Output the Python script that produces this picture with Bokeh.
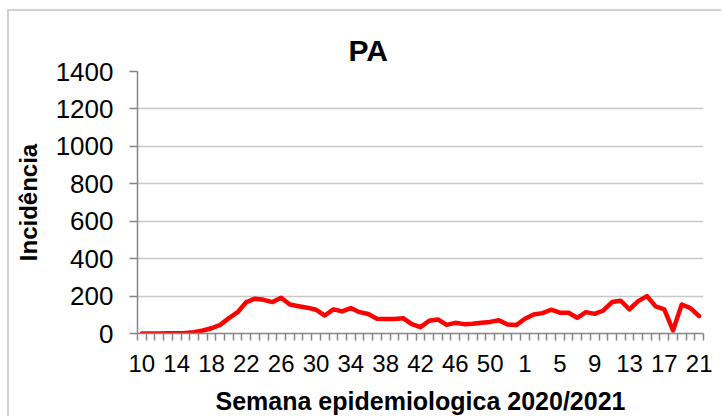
from bokeh.plotting import figure
from bokeh.models import Range1d, FixedTicker
from bokeh.embed import file_html
from bokeh.resources import INLINE

# Epidemiological weeks: 10..53 of 2020, then 1..21 of 2021
weeks = [10, 11, 12, 13, 14, 15, 16, 17, 18, 19, 20, 21, 22, 23, 24, 25, 26, 27, 28, 29,
         30, 31, 32, 33, 34, 35, 36, 37, 38, 39, 40, 41, 42, 43, 44, 45, 46, 47, 48, 49,
         50, 51, 52, 53,
         1, 2, 3, 4, 5, 6, 7, 8, 9, 10, 11, 12, 13, 14, 15, 16, 17, 18, 19, 20, 21]
incidencia = [0, 0, 0, 1, 2, 3, 7, 16, 28, 46, 82, 114,
              168, 186, 180, 168, 191, 155, 146, 138, 127, 96,
              129, 118, 136, 114, 104, 79, 77, 77, 82, 50,
              34, 68, 75, 46, 57, 50, 52, 57, 62, 71, 48, 45,
              79, 102, 109, 127, 111, 111, 84, 114, 105, 123,
              168, 175, 129, 173, 200, 145, 129, 16, 155, 136, 93]
y_ticks = [0, 200, 400, 600, 800, 1000, 1200, 1400]
label_every = 4

n = len(weeks)
xs = [i + 0.5 for i in range(n)]

p = figure(width=714, height=407, output_backend="svg", toolbar_location=None,
           x_range=Range1d(0, n), y_range=Range1d(0, 1400),
           min_border_left=128, min_border_right=20, min_border_top=60, min_border_bottom=85)
p.styles = {"border-top": "2px solid #d0d0d0", "border-left": "2px solid #d0d0d0",
            "margin-top": "9px", "margin-left": "7px"}

p.line(xs, incidencia, line_color="#ff0000", line_width=4.5, line_join="round", line_cap="round")

p.outline_line_color = None
p.background_fill_color = "white"
p.border_fill_color = "white"

# Title
p.title.text = "PA"
p.title.text_font = "Liberation Sans"
p.title.text_font_size = "30px"
p.title.text_font_style = "bold"
p.title.text_color = "black"
p.title.align = "left"
p.title.offset = 211
p.title.standoff = 9

# Y axis
p.yaxis.ticker = FixedTicker(ticks=y_ticks)
p.yaxis.axis_label = "Incidência"
p.yaxis.axis_label_text_font = "Liberation Sans"
p.yaxis.axis_label_text_font_size = "24px"
p.yaxis.axis_label_text_font_style = "bold"
p.yaxis.axis_label_text_color = "black"
p.yaxis.axis_label_standoff = 11
p.yaxis.major_label_text_font = "Liberation Sans"
p.yaxis.major_label_text_font_size = "26px"
p.yaxis.major_label_text_color = "black"
p.yaxis.major_label_standoff = 16
p.yaxis.axis_line_color = "#868686"
p.yaxis.axis_line_width = 1.5
p.yaxis.major_tick_line_color = "#868686"
p.yaxis.major_tick_line_width = 1.5
p.yaxis.major_tick_out = 8
p.yaxis.major_tick_in = 0
p.yaxis.minor_tick_line_color = None

# X axis: labels at every 4th category centre, tick marks at category boundaries
label_pos = [xs[i] for i in range(0, n, label_every)]
p.xaxis.ticker = FixedTicker(ticks=label_pos, minor_ticks=list(range(0, n + 1)))
p.xaxis.major_label_overrides = {xs[i]: str(weeks[i]) for i in range(0, n, label_every)}
p.xaxis.axis_label = "Semana epidemiologica 2020/2021"
p.xaxis.axis_label_text_font = "Liberation Sans"
p.xaxis.axis_label_text_font_size = "25px"
p.xaxis.axis_label_text_font_style = "bold"
p.xaxis.axis_label_text_color = "black"
p.xaxis.axis_label_standoff = 12
p.xaxis.major_label_text_font = "Liberation Sans"
p.xaxis.major_label_text_font_size = "24px"
p.xaxis.major_label_text_color = "black"
p.xaxis.major_label_standoff = 14
p.xaxis.axis_line_color = "#868686"
p.xaxis.axis_line_width = 1.5
p.xaxis.major_tick_line_color = None
p.xaxis.major_tick_out = 0
p.xaxis.major_tick_in = 0
p.xaxis.minor_tick_line_color = "#868686"
p.xaxis.minor_tick_line_width = 1.5
p.xaxis.minor_tick_out = 7
p.xaxis.minor_tick_in = 0

# Grid
p.xgrid.grid_line_color = None
p.ygrid.grid_line_color = "#c8c8c8"
p.ygrid.grid_line_width = 1.5

open("out.html", "w").write(file_html(p, INLINE))
